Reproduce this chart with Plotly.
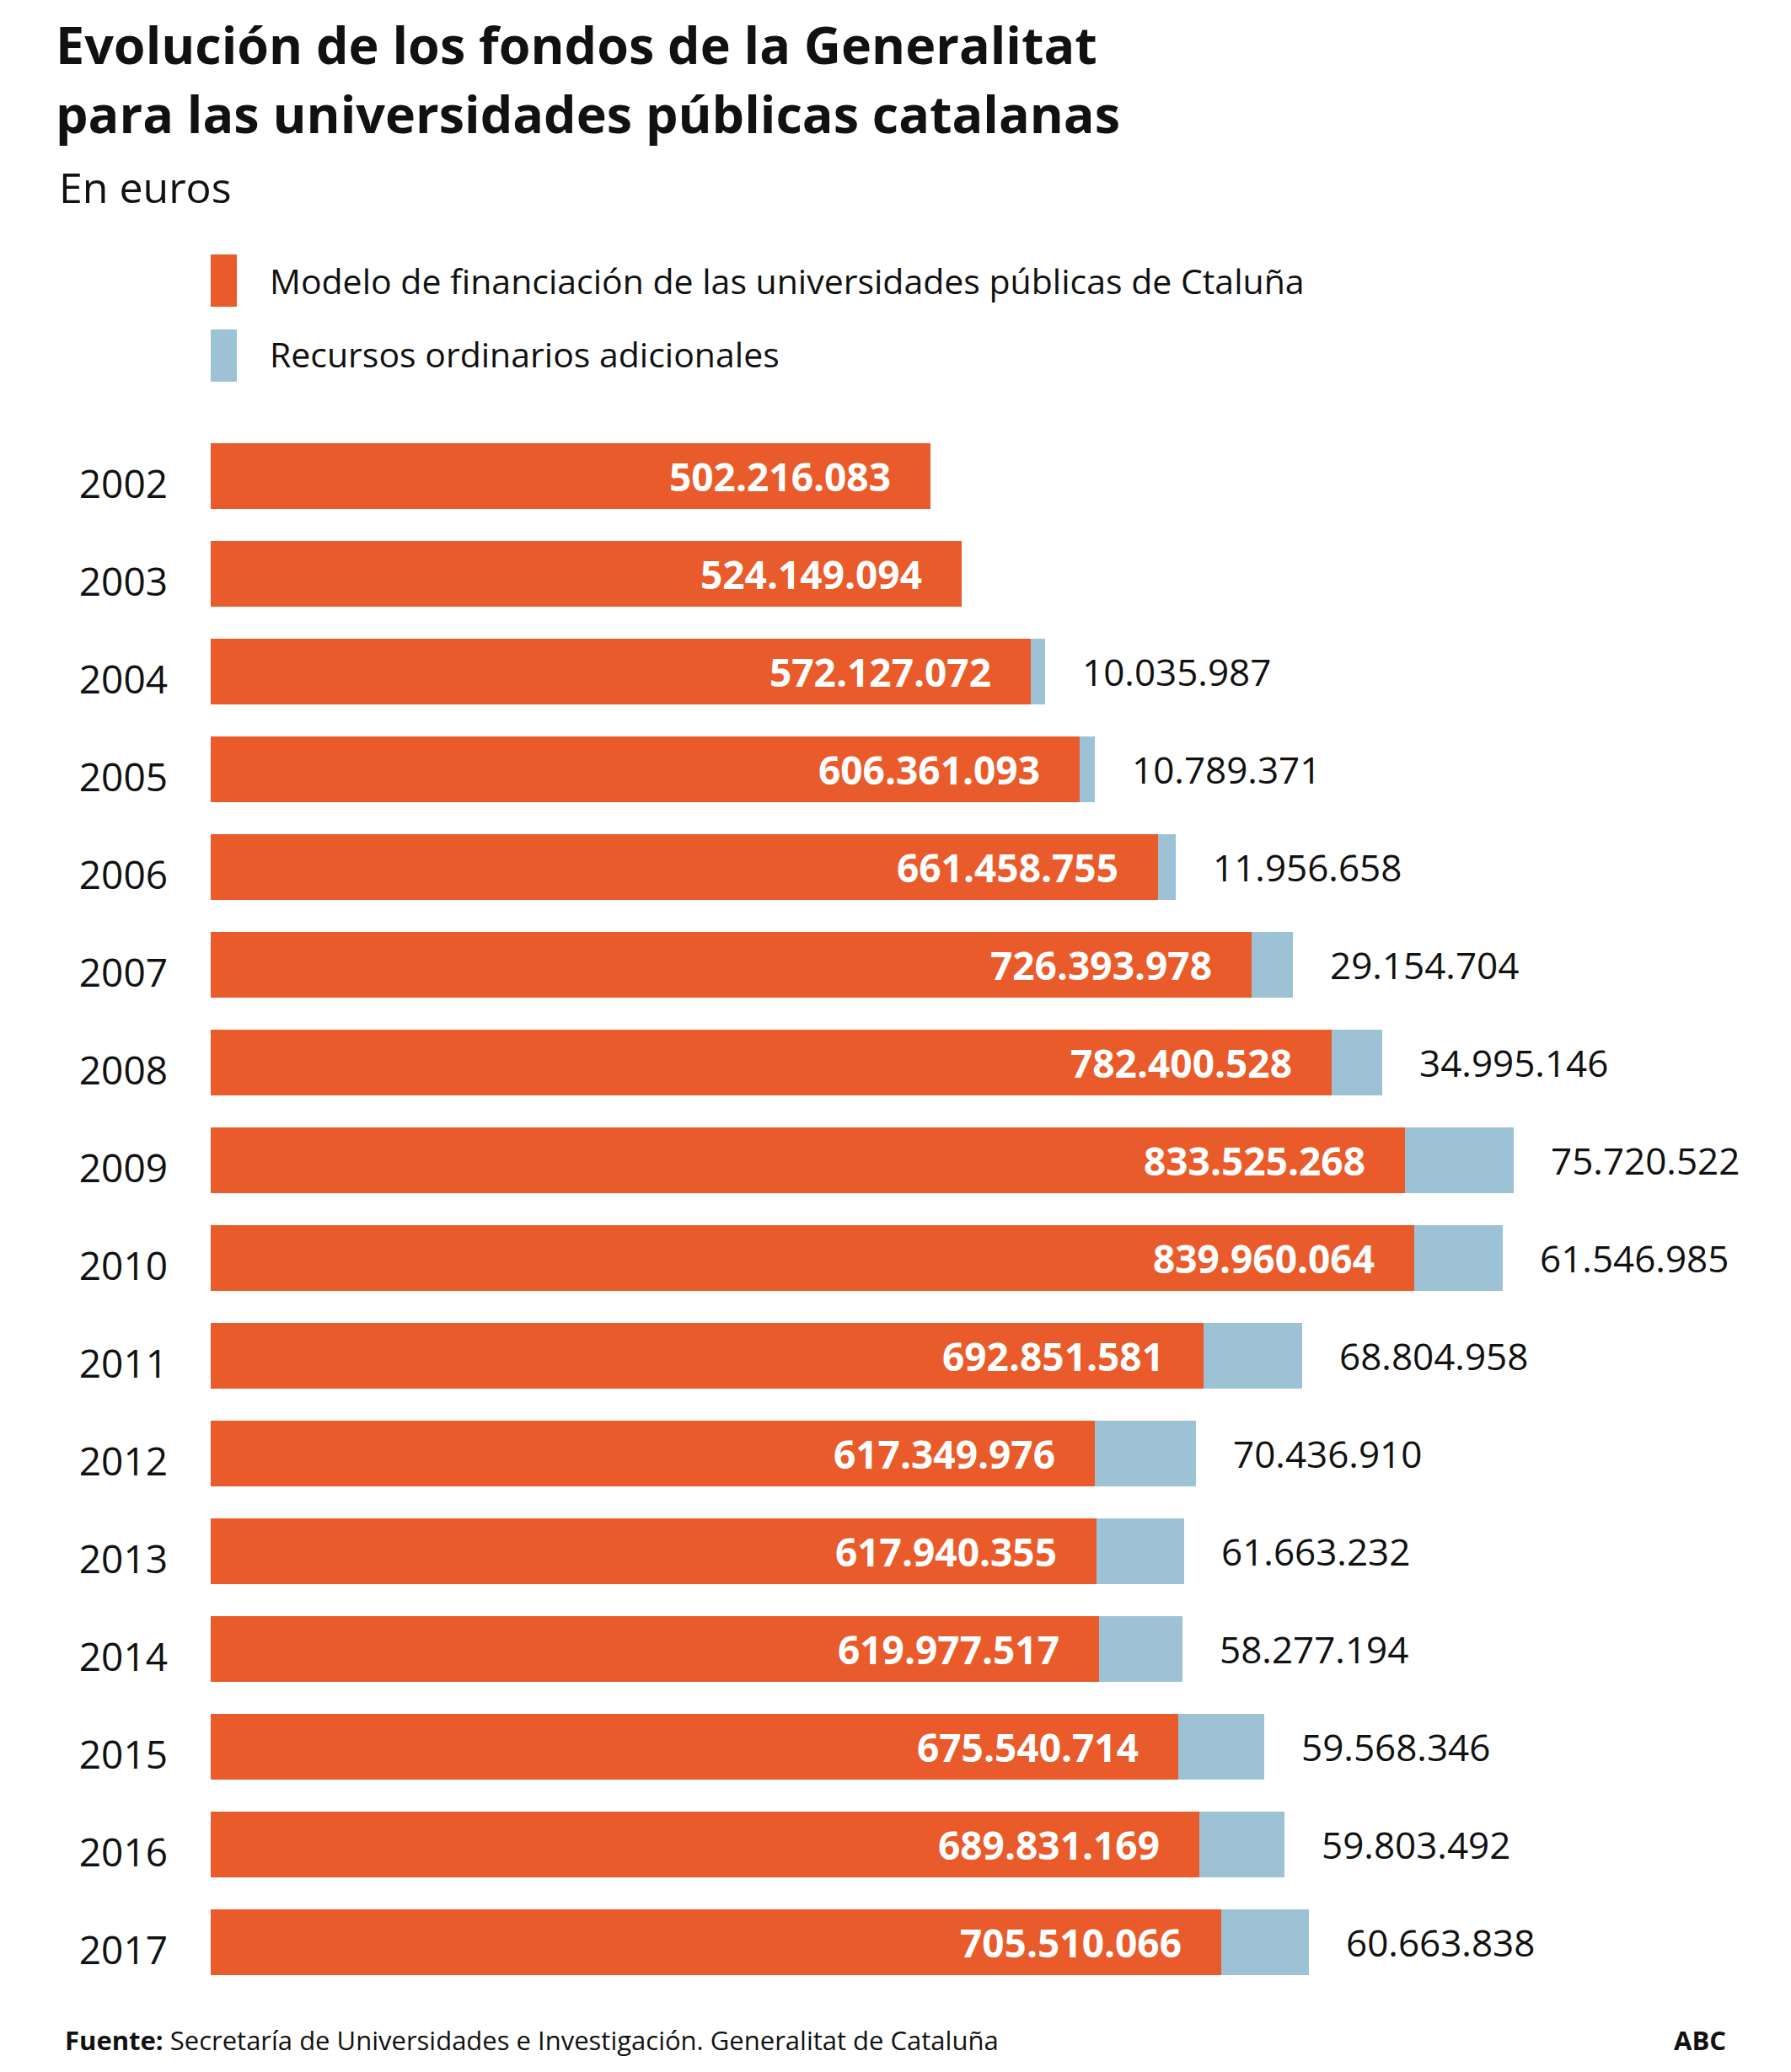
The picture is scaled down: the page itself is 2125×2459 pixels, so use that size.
import plotly.graph_objects as go

years = ["2002", "2003", "2004", "2005", "2006", "2007", "2008", "2009",
         "2010", "2011", "2012", "2013", "2014", "2015", "2016", "2017"]
modelo = [502216083, 524149094, 572127072, 606361093, 661458755, 726393978,
          782400528, 833525268, 839960064, 692851581, 617349976, 617940355,
          619977517, 675540714, 689831169, 705510066]
recursos = [0, 0, 10035987, 10789371, 11956658, 29154704, 34995146, 75720522,
            61546985, 68804958, 70436910, 61663232, 58277194, 59568346,
            59803492, 60663838]

series_names = ["Modelo de financiación de las universidades públicas de Ctaluña",
                "Recursos ordinarios adicionales"]
title_lines = ["Evolución de los fondos de la Generalitat",
               "para las universidades públicas catalanas"]
subtitle = "En euros"
source = "<b>Fuente:</b> Secretaría de Universidades e Investigación. Generalitat de Cataluña"
brand = "<b>ABC</b>"

ORANGE = "#E95B2A"
BLUE = "#9DC2D6"
FONT = "Open Sans"

W, H = 2125, 2459
OFF = 8  # page body margin compensation
PLOT_L, PLOT_R, PLOT_T, PLOT_B = 250, 1950, 507, 2363
ML, MR = PLOT_L - OFF, W - (PLOT_R - OFF)
MT, MB = PLOT_T - OFF, H - (PLOT_B - OFF)
PW, PH = W - ML - MR, H - MT - MB


def fmt(v):
    return f"{v:,}".replace(",", ".")


def px(x):
    return (x - OFF - ML) / PW


def py(y):
    return (H - MB - (y - OFF)) / PH


fig = go.Figure()
fig.add_trace(go.Bar(y=years, x=modelo, orientation="h", marker_color=ORANGE,
                     marker_line_width=0, width=0.672, name=series_names[0],
                     hoverinfo="skip"))
fig.add_trace(go.Bar(y=years, x=recursos, orientation="h", marker_color=BLUE,
                     marker_line_width=0, width=0.672, name=series_names[1],
                     hoverinfo="skip"))

ann = []
for i, (yr, m, r) in enumerate(zip(years, modelo, recursos)):
    ann.append(dict(x=m, y=i, xref="x", yref="y", text=f"<b>{fmt(m)}</b>",
                    showarrow=False, xanchor="right", yanchor="middle", xshift=-45,
                    font=dict(family=FONT, size=46, color="white")))
    if r > 0:
        ann.append(dict(x=m + r, y=i, xref="x", yref="y", text=fmt(r),
                        showarrow=False, xanchor="left", yanchor="middle", xshift=42,
                        font=dict(family=FONT, size=44, color="#111111")))

# Title & subtitle
ann.append(dict(x=px(64), y=py(52), xref="paper", yref="paper", text=f"<b>{title_lines[0]}</b>",
                showarrow=False, xanchor="left", yanchor="middle",
                font=dict(family=FONT, size=61, color="#111111")))
ann.append(dict(x=px(64), y=py(135), xref="paper", yref="paper", text=f"<b>{title_lines[1]}</b>",
                showarrow=False, xanchor="left", yanchor="middle",
                font=dict(family=FONT, size=61, color="#111111")))
ann.append(dict(x=px(68), y=py(222), xref="paper", yref="paper", text=subtitle,
                showarrow=False, xanchor="left", yanchor="middle",
                font=dict(family=FONT, size=50, color="#111111")))
# Legend texts
ann.append(dict(x=px(318), y=py(333), xref="paper", yref="paper", text=series_names[0],
                showarrow=False, xanchor="left", yanchor="middle",
                font=dict(family=FONT, size=41, color="#111111")))
ann.append(dict(x=px(318), y=py(420), xref="paper", yref="paper", text=series_names[1],
                showarrow=False, xanchor="left", yanchor="middle",
                font=dict(family=FONT, size=41, color="#111111")))
# Footer
ann.append(dict(x=px(75), y=py(2421), xref="paper", yref="paper", text=source,
                showarrow=False, xanchor="left", yanchor="middle",
                font=dict(family=FONT, size=31, color="#111111")))
ann.append(dict(x=px(2050), y=py(2421), xref="paper", yref="paper", text=brand,
                showarrow=False, xanchor="right", yanchor="middle",
                font=dict(family=FONT, size=31, color="#111111")))

shapes = [
    dict(type="rect", xref="paper", yref="paper", x0=px(250), x1=px(281),
         y0=py(364), y1=py(302), fillcolor=ORANGE, line_width=0),
    dict(type="rect", xref="paper", yref="paper", x0=px(250), x1=px(281),
         y0=py(453), y1=py(391), fillcolor=BLUE, line_width=0),
]

fig.update_layout(
    width=W, height=H, barmode="stack", showlegend=False,
    paper_bgcolor="white", plot_bgcolor="white",
    margin=dict(l=ML, r=MR, t=MT, b=MB),
    annotations=ann, shapes=shapes,
    font=dict(family=FONT, color="#111111"),
    xaxis=dict(range=[0, 1.0e9], visible=False, fixedrange=True),
    yaxis=dict(type="category", categoryorder="array", categoryarray=years,
               range=[15.5, -0.5], showgrid=False, zeroline=False, showline=False,
               ticks="", ticklabelstandoff=50, ticklabelshift=-10,
               tickfont=dict(family=FONT, size=46, color="#111111")),
)

fig.write_html("out.html")
